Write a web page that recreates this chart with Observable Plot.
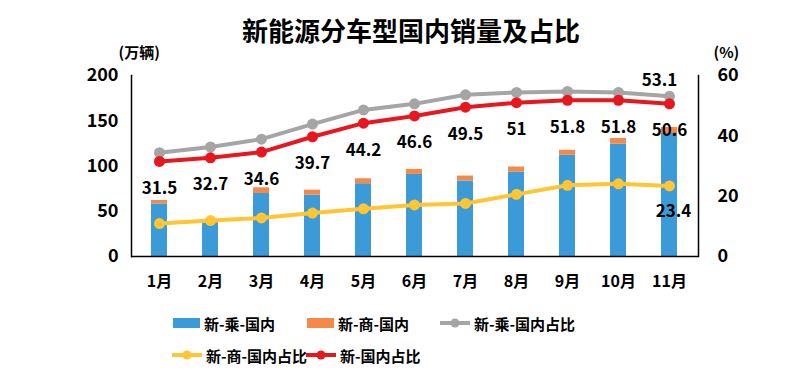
<!DOCTYPE html>
<html>
<head>
<meta charset="utf-8">
<script src="https://cdn.jsdelivr.net/npm/d3@7"></script>
<script src="https://cdn.jsdelivr.net/npm/@observablehq/plot@0.6"></script>
<style>
  html, body { margin: 0; padding: 0; background: #fff; }
  #wrap { position: relative; width: 799px; height: 380px; font-family: "Noto Sans CJK SC", "Noto Sans", sans-serif; color: #000; }
  #title { position: absolute; top: 0; left: 0; width: 799px; height: 60px; line-height: 60px; text-align: center; padding-left: 23px; box-sizing: border-box; font-size: 26px; font-weight: bold; }
  #chart { padding-top: 40px; height: 260px; }
  #legend { position: relative; height: 80px; font-size: 15px; font-weight: bold; }
  .item { position: absolute; height: 20px; display: flex; align-items: center; gap: 4px; white-space: nowrap; }
  .sw { width: 27px; height: 10px; }
</style>
</head>
<body>
<div id="wrap">
  <div id="title">新能源分车型国内销量及占比</div>
  <div id="chart"></div>
  <div id="legend"></div>
</div>
<script>
// ---- data ----
const months = ["1月","2月","3月","4月","5月","6月","7月","8月","9月","10月","11月"];
const passengerSales = [58.1, 36.5, 69.6, 67.8, 80.4, 90.7, 83.3, 93.3, 111.9, 124.1, 135.9]; // 新-乘-国内 (万辆)
const commercialSales = [3.8, 2.5, 6.3, 5.5, 5.5, 5.6, 5.6, 5.6, 5.5, 6.3, 6.7];             // 新-商-国内 (万辆)
const passengerShare = [34.4, 36.3, 38.9, 43.9, 48.6, 50.6, 53.6, 54.4, 54.7, 54.4, 53.1];    // 新-乘-国内占比 (%)
const commercialShare = [10.9, 11.9, 12.8, 14.4, 15.8, 17.1, 17.6, 20.6, 23.6, 24.1, 23.4];   // 新-商-国内占比 (%)
const totalShare = [31.5, 32.7, 34.6, 39.7, 44.2, 46.6, 49.5, 51, 51.8, 51.8, 50.6];          // 新-国内占比 (%)
const leftTicks = [0, 50, 100, 150, 200];
const rightTicks = [0, 20, 40, 60];
const seriesNames = ["新-乘-国内", "新-商-国内", "新-乘-国内占比", "新-商-国内占比", "新-国内占比"];
const seriesColors = ["#3b9ad8", "#f5894a", "#a5a5a5", "#ffc532", "#e8161e"];

// ---- derived tables ----
const k = 200 / 60; // right axis (%) mapped onto left scale
const bars = months.flatMap((m, i) => [
  {month: m, type: seriesNames[0], v: passengerSales[i]},
  {month: m, type: seriesNames[1], v: commercialSales[i]}
]);
const shares = months.map((m, i) => ({
  month: m, p: passengerShare[i], c: commercialShare[i], t: totalShare[i]
}));
const last = shares[shares.length - 1];

const font = "'Noto Sans CJK SC', 'Noto Sans', sans-serif";

const chart = Plot.plot({
  width: 799,
  height: 260,
  marginTop: 35,
  marginBottom: 44,
  marginLeft: 131,
  marginRight: 101,
  style: {fontFamily: font, color: "#000", background: "transparent"},
  x: {domain: months, paddingInner: 0.68, paddingOuter: 0.34},
  y: {domain: [0, 200]},
  color: {domain: seriesNames.slice(0, 2), range: seriesColors.slice(0, 2)},
  marks: [
    Plot.barY(bars, {x: "month", y: "v", fill: "type"}),
    Plot.ruleY([0], {stroke: "#000", strokeWidth: 1.5}),
    Plot.frame({anchor: "left", stroke: "#000", strokeWidth: 1.5}),
    Plot.frame({anchor: "right", stroke: "#000", strokeWidth: 1.5}),
    Plot.axisY({anchor: "left", ticks: leftTicks, tickSize: 0, tickPadding: 13, label: null, fontSize: 18, fontWeight: "bold"}),
    Plot.axisY({anchor: "right", ticks: rightTicks.map(v => v * k), tickFormat: d => Math.round(d / k), tickSize: 0, tickPadding: 19, label: null, fontSize: 18, fontWeight: "bold"}),
    Plot.axisX({anchor: "bottom", tickSize: 0, tickPadding: 19, label: null, fontSize: 16, fontWeight: "bold"}),
    // lines
    Plot.line(shares, {x: "month", y: d => d.p * k, stroke: seriesColors[2], strokeWidth: 4}),
    Plot.dot(shares, {x: "month", y: d => d.p * k, r: 5.5, fill: seriesColors[2]}),
    Plot.line(shares, {x: "month", y: d => d.t * k, stroke: seriesColors[4], strokeWidth: 4}),
    Plot.dot(shares, {x: "month", y: d => d.t * k, r: 5.5, fill: seriesColors[4]}),
    Plot.line(shares, {x: "month", y: d => d.c * k, stroke: seriesColors[3], strokeWidth: 4}),
    Plot.dot(shares, {x: "month", y: d => d.c * k, r: 5.5, fill: seriesColors[3]}),
    // labels
    Plot.text(shares, {x: "month", y: d => d.t * k, text: d => String(d.t), dy: 27, fontSize: 17, fontWeight: "bold", fill: "#000"}),
    Plot.text([last], {x: "month", y: d => d.p * k, text: d => String(d.p), dy: -16, dx: -10, fontSize: 17, fontWeight: "bold", fill: "#000"}),
    Plot.text([last], {x: "month", y: d => d.c * k, text: d => String(d.c), dy: 26, dx: 4, fontSize: 17, fontWeight: "bold", fill: "#000"}),
    // unit labels
    Plot.text(["(万辆)"], {frameAnchor: "top-left", text: d => d, textAnchor: "start", dx: -13, dy: -28, fontSize: 15, fontWeight: "bold", fill: "#000"}),
    Plot.text(["(%)"], {frameAnchor: "top-right", text: d => d, textAnchor: "start", dx: 15, dy: -28, fontSize: 15, fontWeight: "bold", fill: "#000"})
  ]
});
document.getElementById("chart").appendChild(chart);

// ---- legend ----
const legendItems = [
  {name: seriesNames[0], color: seriesColors[0], kind: "rect", left: 173, cy: 23},
  {name: seriesNames[1], color: seriesColors[1], kind: "rect", left: 307, cy: 23},
  {name: seriesNames[2], color: seriesColors[2], kind: "line", left: 440, cy: 23},
  {name: seriesNames[3], color: seriesColors[3], kind: "line", left: 172, cy: 55},
  {name: seriesNames[4], color: seriesColors[4], kind: "line", left: 306, cy: 55}
];
const legend = document.getElementById("legend");
for (const it of legendItems) {
  const div = document.createElement("div");
  div.className = "item";
  div.style.left = it.left + "px";
  div.style.top = (it.cy - 10) + "px";
  let sw;
  if (it.kind === "rect") {
    sw = `<span class="sw" style="background:${it.color}"></span>`;
  } else {
    sw = `<svg width="30" height="12"><line x1="0" x2="30" y1="6" y2="6" stroke="${it.color}" stroke-width="4"/><circle cx="15" cy="6" r="4.5" fill="${it.color}"/></svg>`;
  }
  div.innerHTML = sw + `<span>${it.name}</span>`;
  legend.appendChild(div);
}
</script>
</body>
</html>
